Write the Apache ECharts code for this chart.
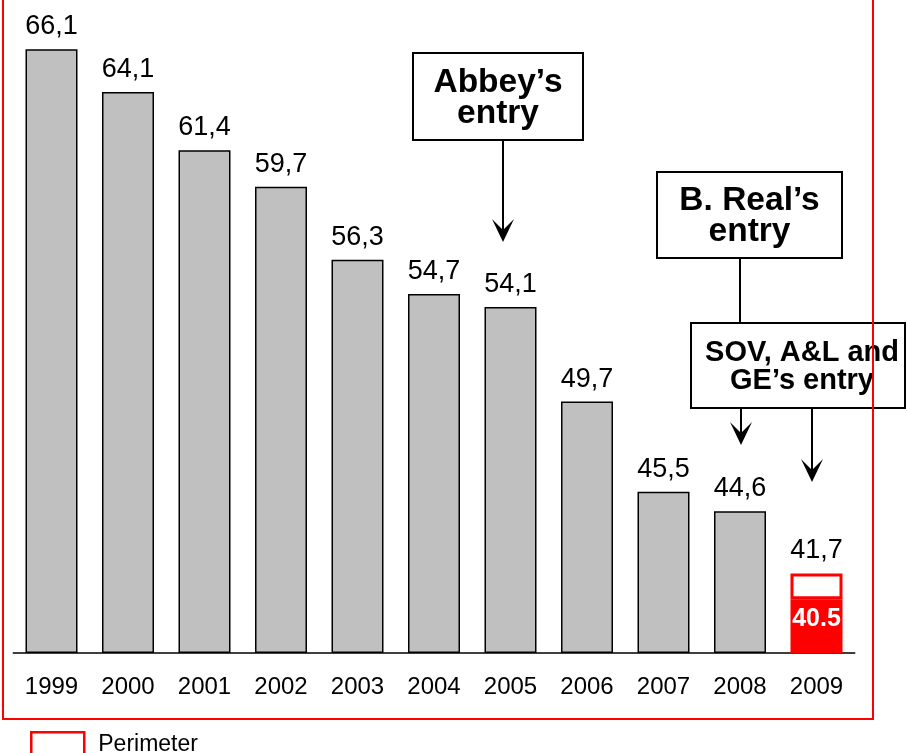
<!DOCTYPE html>
<html>
<head>
<meta charset="utf-8">
<script src="https://cdn.jsdelivr.net/npm/echarts@6/dist/echarts.min.js"></script>
<style>html,body{margin:0;padding:0;background:#fff}#c{width:907px;height:753px}</style>
</head>
<body>
<div id="c"></div>
<script>
const categories = ['1999','2000','2001','2002','2003','2004','2005','2006','2007','2008','2009'];
const totalValues = [66.1, 64.1, 61.4, 59.7, 56.3, 54.7, 54.1, 49.7, 45.5, 44.6, 41.7];
const perimeterValue = 40.5;
const totalLabels = ['66,1','64,1','61,4','59,7','56,3','54,7','54,1','49,7','45,5','44,6','41,7'];
const perimeterLabel = '40.5';
const legendName = 'Perimeter';
const notes = ["Abbey\u2019s\nentry", "B. Real\u2019s\nentry", "SOV, A&L and\nGE\u2019s entry"];

const FONT = '"Liberation Sans", Arial, sans-serif';
const last = categories.length - 1;

const baseData = totalValues.map((v, i) => {
  if (i === last) {
    return {
      value: perimeterValue,
      itemStyle: { color: '#ff0000', borderColor: '#ff0000', borderWidth: 1.5 },
      label: { show: true, position: 'inside', offset: [0, -7], formatter: perimeterLabel,
               color: '#fff', fontWeight: 'bold', fontSize: 25, fontFamily: FONT }
    };
  }
  return v;
});
const topData = totalValues.map((v, i) => i === last ? +(v - perimeterValue).toFixed(1) : '-');

const chart = echarts.init(document.getElementById('c'), null, { renderer: 'canvas' });

function arrowHead(x, tip) {
  return {
    type: 'polygon', z: 20,
    shape: { points: [[x, tip], [x - 11, tip - 23], [x, tip - 12], [x + 11, tip - 23]] },
    style: { fill: '#000' }
  };
}
function vline(x, y1, y2) {
  return { type: 'line', z: 20, shape: { x1: x, y1: y1, x2: x, y2: y2 }, style: { stroke: '#000', lineWidth: 2 } };
}
function box(x, y, w, h, text, size, lh, dx, dy) {
  return {
    type: 'group', z: 20,
    children: [
      { type: 'rect', shape: { x: x, y: y, width: w, height: h }, style: { fill: '#fff', stroke: '#000', lineWidth: 2 } },
      { type: 'text', x: x + w / 2 + (dx || 0), y: y + h / 2 + (dy || 0),
        style: { text: text, fill: '#000', font: 'bold ' + size + 'px ' + FONT, align: 'center', verticalAlign: 'middle', lineHeight: lh } }
    ]
  };
}

chart.setOption({
  animation: false,
  backgroundColor: '#fff',
  grid: { left: 13.25, right: 52.25, top: 8.3, bottom: 100, containLabel: false },
  xAxis: {
    type: 'category',
    data: categories,
    axisLine: { show: true, lineStyle: { color: '#000', width: 1.5 } },
    axisTick: { show: false },
    axisLabel: { color: '#000', fontSize: 24, fontFamily: FONT, margin: 22 }
  },
  yAxis: {
    type: 'value', min: 38, max: 68, startValue: 38, show: false,
    splitLine: { show: false }
  },
  legend: {
    data: [legendName],
    left: 30, top: 731, padding: 0,
    icon: 'rect', itemWidth: 53, itemHeight: 24,
    textStyle: { color: '#000', fontSize: 23, fontFamily: FONT, padding: [0, 0, 0, 9] },
    itemStyle: { borderWidth: 2.5 }
  },
  series: [
    {
      name: 'Total', type: 'bar', stack: 's', barWidth: 52,
      data: baseData,
      itemStyle: { color: '#c0c0c0', borderColor: '#000', borderWidth: 1.5 },
      label: {
        show: true, position: 'top', distance: 9, color: '#000', fontSize: 27, fontFamily: FONT,
        formatter: p => totalLabels[p.dataIndex]
      }
    },
    {
      name: legendName, type: 'bar', stack: 's', barWidth: 52,
      data: topData,
      itemStyle: { color: '#fff', borderColor: '#ff0000', borderWidth: 3 },
      label: {
        show: true, position: 'top', distance: 9, color: '#000', fontSize: 27, fontFamily: FONT,
        formatter: p => totalLabels[p.dataIndex]
      }
    }
  ],
  graphic: {
    elements: [
      { type: 'rect', z: 1, shape: { x: 3, y: -10, width: 870, height: 729 }, style: { fill: 'none', stroke: '#ff0000', lineWidth: 2 } },
      box(413, 53, 170, 87, notes[0], 33.5, 31, 0, 2),
      vline(503, 140, 232), arrowHead(503, 242),
      box(657, 172, 185, 86, notes[1], 33.5, 31, 0, 1),
      vline(740, 258, 323),
      box(691, 323, 214, 85, notes[2], 29, 28, 4, 1),
      vline(741, 408, 436), arrowHead(741, 445),
      vline(812, 408, 473), arrowHead(812, 482)
    ]
  }
});
</script>
</body>
</html>
